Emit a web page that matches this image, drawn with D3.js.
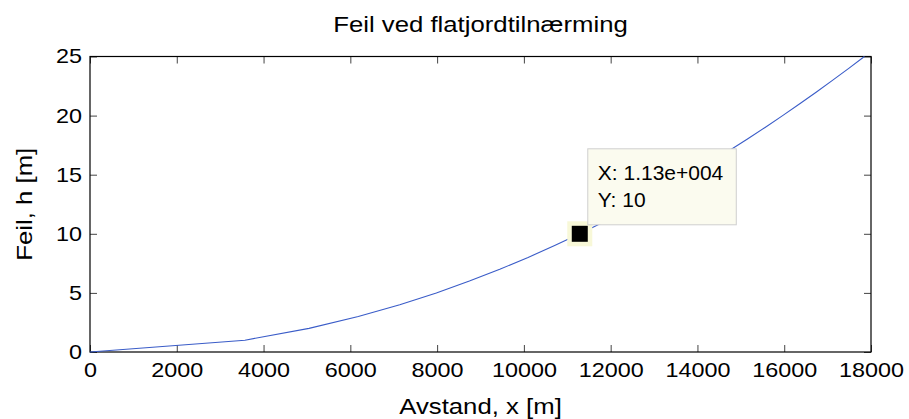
<!DOCTYPE html>
<html>
<head>
<meta charset="utf-8">
<script src="https://cdn.jsdelivr.net/npm/d3@7"></script>
<style>
  body { margin: 0; background: #fff; }
  svg { display: block; }
</style>
</head>
<body>
<div id="chart"></div>
<script>
// Data (distance x in m, error h in m)
const distances = [0, 3570, 5048, 6183, 7139, 7982, 8744, 9444, 10096, 10709, 11288,
  11839, 12365, 12870, 13356, 13825, 14278, 14718, 15144, 15559, 15963,
  16358, 16743, 17119, 17487, 17848];
const errors = [0, 1, 2, 3, 4, 5, 6, 7, 8, 9, 10, 11, 12, 13, 14, 15, 16, 17, 18, 19, 20,
  21, 22, 23, 24, 25];
const xTicks = [0, 2000, 4000, 6000, 8000, 10000, 12000, 14000, 16000, 18000];
const yTicks = [0, 5, 10, 15, 20, 25];
const markerPoint = [11288, 10];
const tipLines = ["X: 1.13e+004", "Y: 10"];

const width = 909,
      height = 419,
      margin = { top: 56.5, right: 38, bottom: 67, left: 90 };

const svg = d3.select("#chart")
  .append("svg")
  .attr("width", width)
  .attr("height", height);

const x = d3.scaleLinear()
  .domain([0, 18000])
  .range([margin.left, width - margin.right]);

const y = d3.scaleLinear()
  .domain([0, 25])
  .range([height - margin.bottom, margin.top]);

const font = "Liberation Sans, Arial, sans-serif";
const stretch = 1.17; // the original's text is rendered wider than Arial
const tickLen = 7;

// Axes (bottom/left with labels, top/right mirrored ticks only)
const xAxis = svg.append("g")
  .attr("transform", `translate(0,${y(0)})`)
  .call(d3.axisBottom(x).tickValues(xTicks).tickSize(-tickLen).tickFormat(d3.format("d")));
const xAxisTop = svg.append("g")
  .attr("transform", `translate(0,${y(25)})`)
  .call(d3.axisTop(x).tickValues(xTicks).tickSize(-tickLen).tickFormat(""));
const yAxis = svg.append("g")
  .attr("transform", `translate(${x(0)},0)`)
  .call(d3.axisLeft(y).tickValues(yTicks).tickSize(-tickLen));
const yAxisRight = svg.append("g")
  .attr("transform", `translate(${x(18000)},0)`)
  .call(d3.axisRight(y).tickValues(yTicks).tickSize(-tickLen).tickFormat(""));

[xAxis, xAxisTop, yAxis, yAxisRight].forEach(g => {
  g.select(".domain").remove();
  g.selectAll(".tick line").attr("stroke", "#444");
  g.selectAll(".tick text")
    .attr("fill", "#000")
    .style("font-family", font)
    .style("font-size", "20px");
});

xAxis.selectAll(".tick text")
  .attr("y", 0)
  .attr("dy", null)
  .attr("transform", `translate(0,25) scale(${stretch},1)`);
yAxis.selectAll(".tick text")
  .attr("x", 0)
  .attr("transform", `translate(-8,0) scale(${stretch},1)`);

// Box
svg.append("rect")
  .attr("x", x(0))
  .attr("y", y(25))
  .attr("width", x(18000) - x(0))
  .attr("height", y(0) - y(25))
  .attr("fill", "none")
  .attr("stroke", "#000")
  .attr("stroke-width", 1.2);

// Curve
const pts = distances.map((d, i) => [d, errors[i]]);
const line = d3.line()
  .x(d => x(d[0]))
  .y(d => y(d[1]));

svg.append("path")
  .datum(pts)
  .attr("d", line)
  .attr("fill", "none")
  .attr("stroke", "#3a5cc8")
  .attr("stroke-width", 1.1);

// Data cursor marker
const mx = x(markerPoint[0]), my = y(markerPoint[1]);
svg.append("rect")
  .attr("x", mx - 12.5)
  .attr("y", my - 12.5)
  .attr("width", 25)
  .attr("height", 25)
  .attr("fill", "#f8f8d8");
svg.append("rect")
  .attr("x", mx - 8)
  .attr("y", my - 8)
  .attr("width", 16)
  .attr("height", 16)
  .attr("fill", "#000");

// Data tip box
const tip = svg.append("g")
  .attr("transform", `translate(${mx + 8},${my - 85})`);
tip.append("rect")
  .attr("width", 148.5)
  .attr("height", 76)
  .attr("fill", "#fbfbef")
  .attr("stroke", "#cfcfcf");
tip.selectAll("text")
  .data(tipLines)
  .enter()
  .append("text")
  .attr("x", 10)
  .attr("y", (d, i) => 31 + i * 27)
  .text(d => d)
  .style("font-family", font)
  .style("font-size", "21px")
  .attr("fill", "#000");

// Title and axis labels
const cx = (x(0) + x(18000)) / 2;
svg.append("text")
  .attr("transform", `translate(${cx},32) scale(${stretch},1)`)
  .attr("text-anchor", "middle")
  .style("font-family", font)
  .style("font-size", "22px")
  .text("Feil ved flatjordtilnærming");

svg.append("text")
  .attr("transform", `translate(${cx},414) scale(${stretch},1)`)
  .attr("text-anchor", "middle")
  .style("font-family", font)
  .style("font-size", "22px")
  .text("Avstand, x [m]");

svg.append("text")
  .attr("transform", `translate(32,${(y(0) + y(25)) / 2}) rotate(-90) scale(${stretch},1)`)
  .attr("text-anchor", "middle")
  .style("font-family", font)
  .style("font-size", "22px")
  .text("Feil, h [m]");
</script>
</body>
</html>
